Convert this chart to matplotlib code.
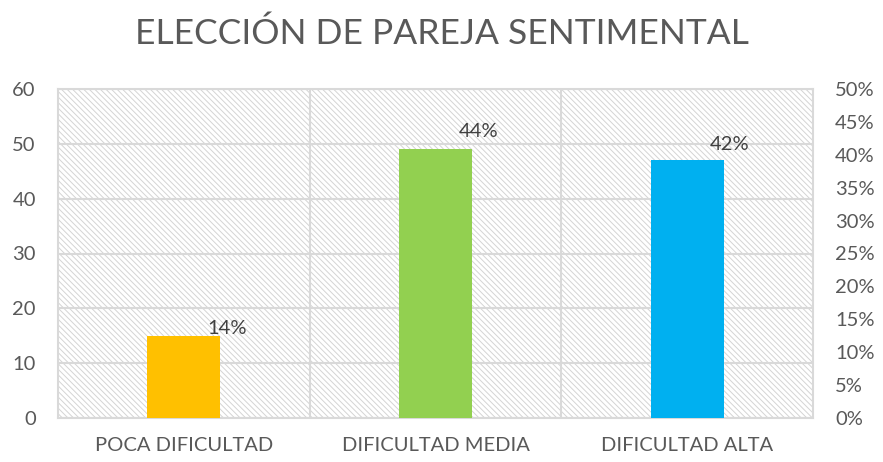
import numpy as np
import matplotlib
matplotlib.use("Agg")
import matplotlib.pyplot as plt
from matplotlib.patches import Rectangle
from matplotlib.ticker import PercentFormatter

# data
categories = ["POCA DIFICULTAD", "DIFICULTAD MEDIA", "DIFICULTAD ALTA"]
counts = [15, 49, 47]
percents = [0.14, 0.44, 0.42]
bar_colors = ["#FFC000", "#92D050", "#00B0F0"]
title = "ELECCIÓN DE PAREJA SENTIMENTAL"

text_color = "#595959"
grid_color = "#D9D9D9"
plt.rcParams["font.family"] = ["Lato", "DejaVu Sans"]
plt.rcParams["hatch.linewidth"] = 0.7
plt.rcParams["hatch.color"] = "#D4D4D4"

fig = plt.figure(figsize=(8.83, 4.62), dpi=100)
ax = fig.add_axes([58 / 883, 44 / 462, 755 / 883, 329 / 462])

# hatched plot background
ax.add_patch(Rectangle((0, 0), 1, 1, transform=ax.transAxes, facecolor="white",
                       edgecolor="#D4D4D4", hatch="\\" * 6, linewidth=0, zorder=0))

x = np.arange(len(categories))
ax.bar(x, counts, width=0.29, color=bar_colors, zorder=3)

ax.set_xlim(-0.5, len(categories) - 0.5)
ax.set_ylim(0, 60)
ax.set_yticks(range(0, 61, 10))
ax.yaxis.grid(True, color=grid_color, linewidth=1.5, zorder=1)
for b in np.arange(0.5, len(categories) - 0.5, 1):
    ax.axvline(b, color=grid_color, linewidth=1.5, zorder=1)
ax.set_axisbelow(True)

ax.set_xticks(x)
ax.set_xticklabels(categories)
ax.tick_params(axis="x", length=0, pad=14, labelsize=14.5, labelcolor=text_color)
ax.tick_params(axis="y", length=0, pad=16, labelsize=14.5, labelcolor=text_color)
for s in ax.spines.values():
    s.set_color(grid_color)
    s.set_linewidth(1.5)

ax2 = ax.twinx()
ax2.set_ylim(0, 0.5)
ax2.set_yticks(np.arange(0, 0.51, 0.05))
ax2.yaxis.set_major_formatter(PercentFormatter(1.0, decimals=0))
ax2.tick_params(axis="y", length=0, pad=16, labelsize=14.5, labelcolor=text_color)
for s in ax2.spines.values():
    s.set_visible(False)

for xi, p in zip(x, percents):
    ax2.text(xi + 0.17, p - 0.004, f"{round(p * 100)}%", ha="center", va="center",
             fontsize=14.5, color="#404040", zorder=5)

fig.text(0.5, 0.928, title, ha="center", va="center", fontsize=25.5,
         color=text_color)

fig.savefig("out.png", dpi=100)
